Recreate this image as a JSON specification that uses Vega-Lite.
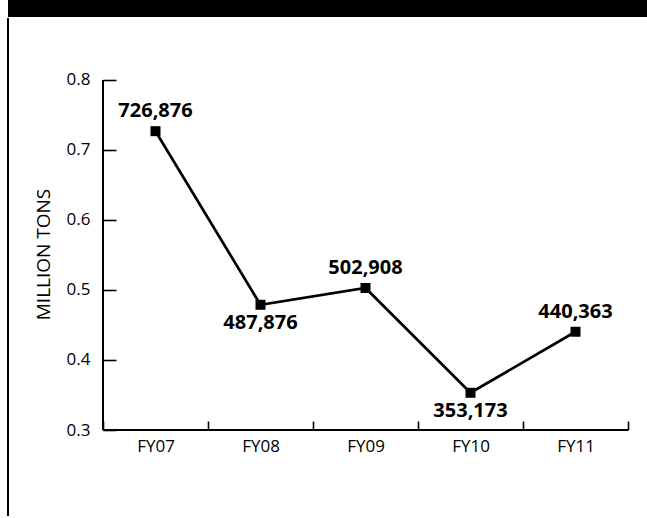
{
  "$schema": "https://vega.github.io/schema/vega-lite/v6.json",
  "padding": {"left": 7, "top": 0, "right": 0, "bottom": 0},
  "spacing": 0,
  "background": "white",
  "config": {"font": "Open Sans", "view": {"stroke": null}},
  "vconcat": [
    {
      "width": 640,
      "height": 17,
      "view": {"fill": "black", "stroke": null},
      "data": {"values": []},
      "mark": "point",
      "encoding": {}
    },
    {
      "width": 638,
      "height": 498,
      "view": {"fill": null, "stroke": "black", "strokeWidth": 2, "strokeDash": [0, 1774, 498, 0]},
      "data": {
        "values": [
          {"year": "FY07", "tons": 0.726876, "label": "726,876"},
          {"year": "FY08", "tons": 0.478876, "label": "487,876"},
          {"year": "FY09", "tons": 0.502908, "label": "502,908"},
          {"year": "FY10", "tons": 0.353173, "label": "353,173"},
          {"year": "FY11", "tons": 0.440363, "label": "440,363"}
        ]
      },
      "encoding": {
        "x": {
          "field": "year",
          "type": "nominal",
          "sort": null,
          "scale": {"type": "band", "domain": ["FY07", "FY08", "FY09", "FY10", "FY11"], "paddingInner": 0, "paddingOuter": 0.538095, "align": 0.8407, "round": false},
          "axis": {
            "orient": "bottom",
            "offset": -86,
            "domain": false,
            "grid": false,
            "tickBand": "extent",
            "tickSize": -9,
            "tickColor": "black",
            "tickWidth": 1.6,
            "labelAngle": 0,
            "labelFontSize": 17,
            "labelColor": "black",
            "labelPadding": 17,
            "title": null
          }
        },
        "y": {
          "field": "tons",
          "type": "quantitative",
          "scale": {"domain": [0.177143, 0.888571], "nice": false, "zero": false},
          "axis": {
            "orient": "left",
            "offset": -95,
            "domain": false,
            "grid": false,
            "values": [0.3, 0.4, 0.5, 0.6, 0.7, 0.8],
            "format": ".1f",
            "tickSize": -13,
            "tickColor": "black",
            "tickWidth": 1.6,
            "labelFontSize": 17,
            "labelColor": "black",
            "labelPadding": 26,
            "title": "MILLION TONS",
            "titleFontSize": 19,
            "titleFontWeight": "normal",
            "titleColor": "black",
            "titlePadding": 13,
            "titleY": 236
          }
        }
      },
      "layer": [
        {
          "mark": {"type": "rule", "color": "black", "strokeWidth": 2},
          "encoding": {
            "x": {"datum": "FY07", "type": "nominal", "bandPosition": 0},
            "y": {"datum": 0.3, "type": "quantitative"},
            "y2": {"datum": 0.8}
          }
        },
        {
          "mark": {"type": "rect", "fill": null, "stroke": "black", "strokeWidth": 1.8, "opacity": 1},
          "encoding": {
            "y": {"datum": 0.3, "type": "quantitative"},
            "y2": {"datum": 0.3}
          }
        },
        {
          "mark": {"type": "line", "color": "black", "strokeWidth": 2.7},
          "encoding": {}
        },
        {
          "mark": {"type": "square", "color": "black", "filled": true, "opacity": 1, "size": 100},
          "encoding": {}
        },
        {
          "transform": [{"filter": {"field": "year", "oneOf": ["FY07", "FY09", "FY11"]}}],
          "mark": {"type": "text", "fontWeight": "bold", "fontSize": 20, "color": "black", "dy": -14, "baseline": "alphabetic"},
          "encoding": {"text": {"field": "label"}}
        },
        {
          "transform": [{"filter": {"field": "year", "oneOf": ["FY08", "FY10"]}}],
          "mark": {"type": "text", "fontWeight": "bold", "fontSize": 20, "color": "black", "dy": 24, "baseline": "alphabetic"},
          "encoding": {"text": {"field": "label"}}
        }
      ]
    }
  ]
}
